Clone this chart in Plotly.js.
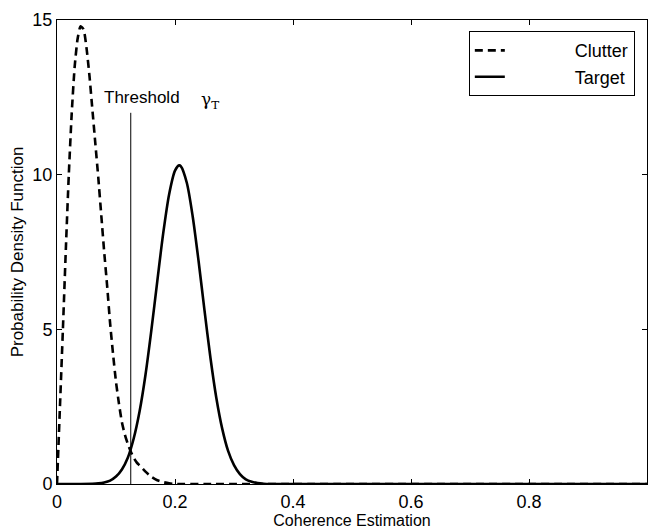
<!DOCTYPE html>
<html>
<head>
<meta charset="utf-8">
<script src="https://cdn.plot.ly/plotly-3.0.1.min.js"></script>
<style>html,body{margin:0;padding:0;background:#fff;}#chart{width:650px;height:531px;}</style>
</head>
<body>
<div id="chart"></div>
<script>
// Clutter PDF (dashed)
var clutterX = [0, 0.005, 0.01, 0.015, 0.02, 0.025, 0.03, 0.035, 0.04, 0.045, 0.05, 0.055, 0.06, 0.065, 0.07, 0.075, 0.08, 0.085, 0.09, 0.095, 0.10, 0.105, 0.11, 0.115, 0.12, 0.125, 0.13, 0.135, 0.14, 0.15, 0.16, 0.17, 0.18, 0.19, 0.20, 0.25, 1.0];
var clutterY = [0, 2.5, 5.0, 7.6, 10.0, 12.0, 13.5, 14.4, 14.8, 14.7, 14.1, 13.2, 12.1, 11.0, 9.9, 8.7, 7.5, 6.4, 5.2, 4.2, 3.3, 2.6, 2.0, 1.6, 1.3, 1.05, 0.85, 0.7, 0.6, 0.4, 0.23, 0.12, 0.06, 0.02, 0, 0, 0];
// Target PDF (solid)
var targetX = [0, 0.06, 0.07, 0.08, 0.09, 0.10, 0.11, 0.12, 0.13, 0.14, 0.15, 0.16, 0.17, 0.18, 0.19, 0.20, 0.207, 0.21, 0.22, 0.23, 0.24, 0.25, 0.26, 0.27, 0.28, 0.29, 0.30, 0.31, 0.32, 0.33, 0.34, 0.35, 0.36, 1.0];
var targetY = [0, 0.01, 0.02, 0.05, 0.11, 0.24, 0.47, 0.85, 1.47, 2.35, 3.53, 4.98, 6.56, 8.1, 9.36, 10.13, 10.3, 10.27, 9.74, 8.65, 7.2, 5.61, 4.09, 2.79, 1.79, 1.07, 0.61, 0.32, 0.15, 0.07, 0.03, 0.01, 0, 0];
// Threshold
var thresholdX = [0.125, 0.125];
var thresholdY = [0, 12];
// Ticks
var xTickVals = [0, 0.2, 0.4, 0.6, 0.8, 1];
var xTickText = ["0", "0.2", "0.4", "0.6", "0.8", "1"];
var yTickVals = [0, 5, 10, 15];
var yTickText = ["0", "5", "10", "15"];
var seriesNames = ["Clutter", "Target"];

var pad = "\u00a0\u00a0\u00a0\u00a0\u00a0\u00a0\u00a0\u00a0\u00a0\u00a0\u00a0\u00a0\u00a0";
var traces = [
  {x: clutterX, y: clutterY, mode: 'lines', name: pad + seriesNames[0],
   line: {color: '#000', width: 2.6, dash: '8px,5px', shape: 'spline', smoothing: 0.6}},
  {x: targetX, y: targetY, mode: 'lines', name: pad + seriesNames[1],
   line: {color: '#000', width: 2.6, shape: 'spline', smoothing: 0.8}},
  {x: thresholdX, y: thresholdY, mode: 'lines', showlegend: false,
   line: {color: '#000', width: 1}}
];

var font = {family: '"Liberation Sans", Arial, Helvetica, sans-serif', color: '#000'};
var layout = {
  width: 650, height: 531,
  margin: {l: 57, r: 3, t: 20, b: 47},
  paper_bgcolor: '#fff', plot_bgcolor: '#fff',
  font: Object.assign({size: 16}, font),
  showlegend: true,
  legend: {x: 0.698, y: 0.976, xanchor: 'left', yanchor: 'top',
    bordercolor: '#000', borderwidth: 1, bgcolor: '#fff',
    font: Object.assign({size: 18}, font), tracegroupgap: 0},
  xaxis: {range: [0, 1], tickvals: xTickVals, ticktext: xTickText,
    ticks: 'inside', ticklen: 5, tickcolor: '#000', showline: true, linecolor: '#000', linewidth: 1,
    mirror: 'ticks', showgrid: false, zeroline: false, automargin: false,
    tickfont: Object.assign({size: 18}, font), ticklabelstandoff: 1,
    title: {text: 'Coherence Estimation', font: Object.assign({size: 16}, font), standoff: 0}},
  yaxis: {range: [0, 15], tickvals: yTickVals, ticktext: yTickText,
    ticks: 'inside', ticklen: 5, tickcolor: '#000', showline: true, linecolor: '#000', linewidth: 1,
    mirror: 'ticks', showgrid: false, zeroline: false, automargin: false,
    tickfont: Object.assign({size: 18}, font),
    title: {text: 'Probability Density Function', font: Object.assign({size: 17}, font), standoff: 4}},
  annotations: [
    {x: 0.076, y: 12.5, xref: 'x', yref: 'y', text: 'Threshold', showarrow: false,
     xanchor: 'left', yanchor: 'middle', font: Object.assign({size: 17}, font)},
    {x: 0.241, y: 12.4, xref: 'x', yref: 'y', text: '\u03b3<sub>T</sub>', showarrow: false,
     xanchor: 'left', yanchor: 'middle', font: {family: '"DejaVu Serif", serif', size: 17, color: '#000'}}
  ]
};
Plotly.newPlot('chart', traces, layout, {staticPlot: true, displayModeBar: false});
</script>
</body>
</html>
